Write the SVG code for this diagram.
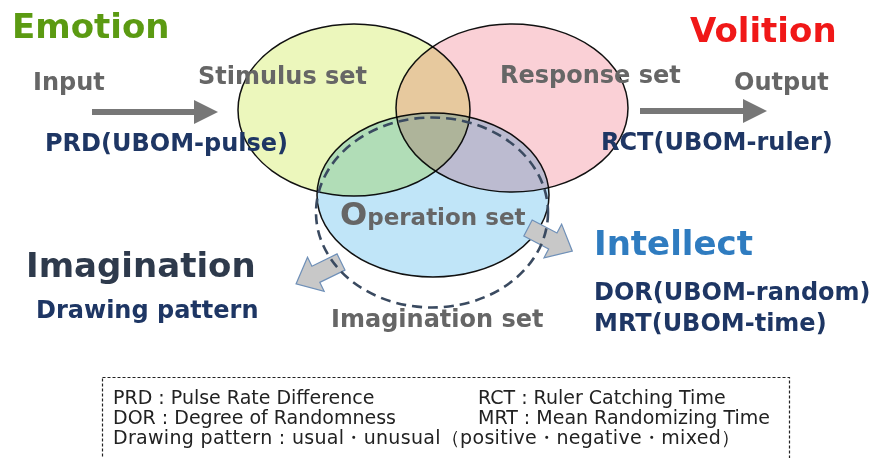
<svg xmlns="http://www.w3.org/2000/svg" width="883" height="458" viewBox="0 0 883 458">
  <style>
    .b { font-family: "DejaVu Sans", Verdana, sans-serif; font-weight: bold; }
    .set { fill: #666666; font-size: 24px; }
    .navy { fill: #1e3664; font-size: 24px; }
    .big { font-size: 34px; }
    .venn { stroke: #111111; stroke-width: 1.5; mix-blend-mode: multiply; }
    .flow { stroke: #777777; stroke-width: 6; }
    .block { fill: #c8c8c8; stroke: #6f90b8; stroke-width: 1.2; }
    .note { font-family: "DejaVu Sans", Verdana, sans-serif; font-size: 19px; fill: #222222; }
  </style>
  <defs>
    <marker id="head" markerWidth="4" markerHeight="4" refX="2" refY="2" orient="auto" markerUnits="strokeWidth">
      <path d="M0,0 L4,2 L0,4 Z" fill="#777777"/>
    </marker>
    <!-- chunky block arrow pointing along +x, tail centred on the origin -->
    <path id="blockArrow" d="M0,-9 L28,-9 L28,-19 L50,0 L28,19 L28,9 L0,9 Z"/>
  </defs>
  <rect width="883" height="458" fill="#ffffff"/>

  <!-- three overlapping sets -->
  <g id="stimulus-set">
    <ellipse class="venn" cx="354" cy="110" rx="116" ry="86" fill="#ecf7bc"/>
  </g>
  <g id="response-set">
    <ellipse class="venn" cx="512" cy="108" rx="116" ry="84" fill="#fad0d6"/>
  </g>
  <g id="operation-set">
    <ellipse class="venn" cx="433" cy="195" rx="116" ry="82" fill="#c0e5f8"/>
  </g>

  <!-- flows in and out, and the block arrows -->
  <g id="connectors">
    <line class="flow" x1="92" y1="112" x2="206" y2="112" marker-end="url(#head)"/>
    <line class="flow" x1="640" y1="111" x2="755" y2="111" marker-end="url(#head)"/>
    <use href="#blockArrow" class="block" transform="translate(528,228) rotate(27.6)"/>
    <use href="#blockArrow" class="block" transform="translate(341,262) rotate(154)"/>
  </g>

  <g id="imagination-set">
    <ellipse cx="432" cy="212.5" rx="116" ry="95" fill="none" stroke="#3a4a60" stroke-width="2.6" stroke-dasharray="10 6"/>
  </g>

  <!-- labels -->
  <g id="labels">
    <text class="b big" x="12" y="38" fill="#5b9a12">Emotion</text>
    <text class="b big" x="690" y="42" fill="#f01818">Volition</text>
    <text class="b set" x="33" y="90">Input</text>
    <text class="b set" x="734" y="90">Output</text>
    <text class="b set" x="198" y="84">Stimulus set</text>
    <text class="b set" x="500" y="83">Response set</text>
    <text class="b set" x="340" y="225"><tspan font-size="32">O</tspan><tspan font-size="23">peration set</tspan></text>
    <text class="b set" x="331" y="327">Imagination set</text>
    <text class="b navy" x="45" y="151">PRD(UBOM-pulse)</text>
    <text class="b navy" x="601" y="150">RCT(UBOM-ruler)</text>
    <text class="b big" x="594" y="255" fill="#2f7cc0">Intellect</text>
    <text class="b navy" x="594" y="300">DOR(UBOM-random)</text>
    <text class="b navy" x="594" y="331">MRT(UBOM-time)</text>
    <text class="b big" x="26" y="277" fill="#2e3a4c">Imagination</text>
    <text class="b navy" x="36" y="318">Drawing pattern</text>
  </g>

  <!-- abbreviation legend -->
  <g id="legend">
    <rect x="102.5" y="377.5" width="687" height="100" fill="none" stroke="#222222" stroke-width="1.2" stroke-dasharray="3 2"/>
    <text class="note" x="113" y="404">PRD : Pulse Rate Difference</text>
    <text class="note" x="478" y="404">RCT : Ruler Catching Time</text>
    <text class="note" x="113" y="424">DOR : Degree of Randomness</text>
    <text class="note" x="478" y="424">MRT : Mean Randomizing Time</text>
    <text class="note" x="113" y="444" textLength="627">Drawing pattern : usual・unusual（positive・negative・mixed）</text>
  </g>
</svg>
